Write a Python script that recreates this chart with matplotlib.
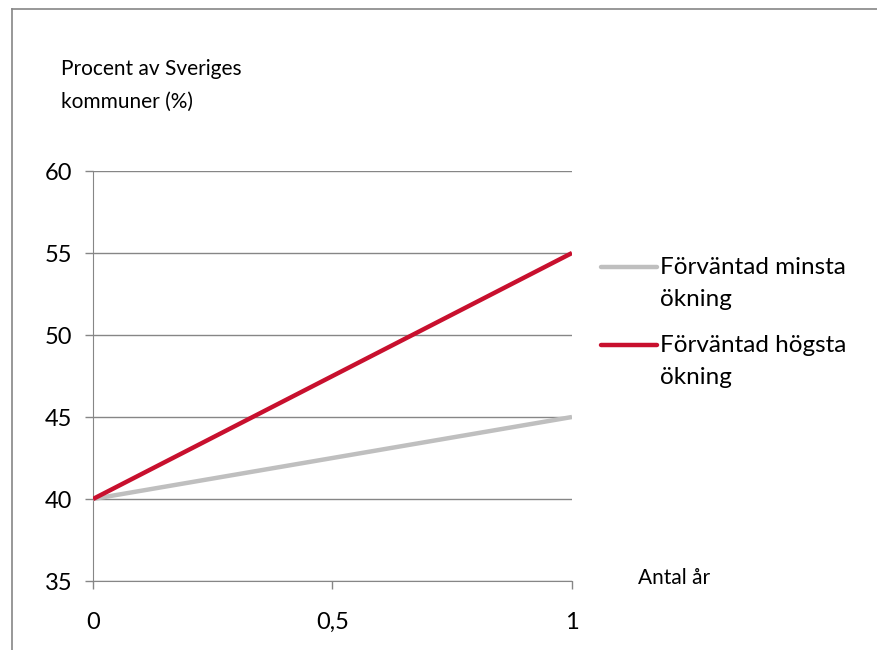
import matplotlib.pyplot as plt
from matplotlib.lines import Line2D

plt.rcParams['font.family'] = ['Lato', 'DejaVu Sans']

years = [0, 0.5, 1]
min_increase = [40, 42.5, 45]
max_increase = [40, 47.5, 55]
labels = [("Förväntad minsta", "ökning"), ("Förväntad högsta", "ökning")]
colors = ["#BFBFBF", "#C8102E"]
y_ticks = [35, 40, 45, 50, 55, 60]
x_ticks = [0, 0.5, 1]
x_tick_labels = ["0", "0,5", "1"]

fig = plt.figure(figsize=(8.78, 6.5), dpi=100)
ax = fig.add_axes([93 / 878, 1 - 581 / 650, (572 - 93) / 878, (581 - 171) / 650])

ax.plot(years, min_increase, color=colors[0], lw=3.2, solid_capstyle='butt', zorder=3)
ax.plot(years, max_increase, color=colors[1], lw=3.2, solid_capstyle='butt', zorder=4)

ax.set_xlim(0, 1)
ax.set_ylim(35, 60)
ax.set_yticks(y_ticks)
ax.set_xticks(x_ticks)
ax.set_xticklabels(x_tick_labels)
ax.yaxis.grid(True, color="#868686", lw=1)
ax.set_axisbelow(True)
for s in ['top', 'right']:
    ax.spines[s].set_visible(False)
for s in ['left', 'bottom']:
    ax.spines[s].set_color("#868686")
ax.tick_params(axis='both', colors="#868686", labelcolor='black', length=6, width=1, labelsize=17)
ax.tick_params(axis='y', pad=9)
ax.tick_params(axis='x', pad=16)

fig.text(61 / 878, 1 - 69 / 650, "Procent av Sveriges", fontsize=15, va='center')
fig.text(61 / 878, 1 - 102 / 650, "kommuner (%)", fontsize=15, va='center')
fig.text(638 / 878, 1 - 578 / 650, "Antal år", fontsize=15, va='center')

# legend drawn by hand so the key lines sit on the first text row
leg_y = [267, 345]
for (l1, l2), col, y in zip(labels, colors, leg_y):
    fig.add_artist(Line2D([601 / 878, 657 / 878], [1 - y / 650, 1 - y / 650],
                          color=col, lw=3.2, solid_capstyle='round'))
    fig.text(660 / 878, 1 - y / 650, l1, fontsize=17.5, va='center')
    fig.text(660 / 878, 1 - (y + 33) / 650, l2, fontsize=17.5, va='center')

# chart frame (top and left edges visible)
fig.add_artist(Line2D([12 / 878, 12 / 878], [0, 1 - 8.5 / 650], color="#868686", lw=1.2))
fig.add_artist(Line2D([12 / 878, 877 / 878], [1 - 8.5 / 650, 1 - 8.5 / 650], color="#868686", lw=1.2))

fig.savefig("out.png", dpi=100)
